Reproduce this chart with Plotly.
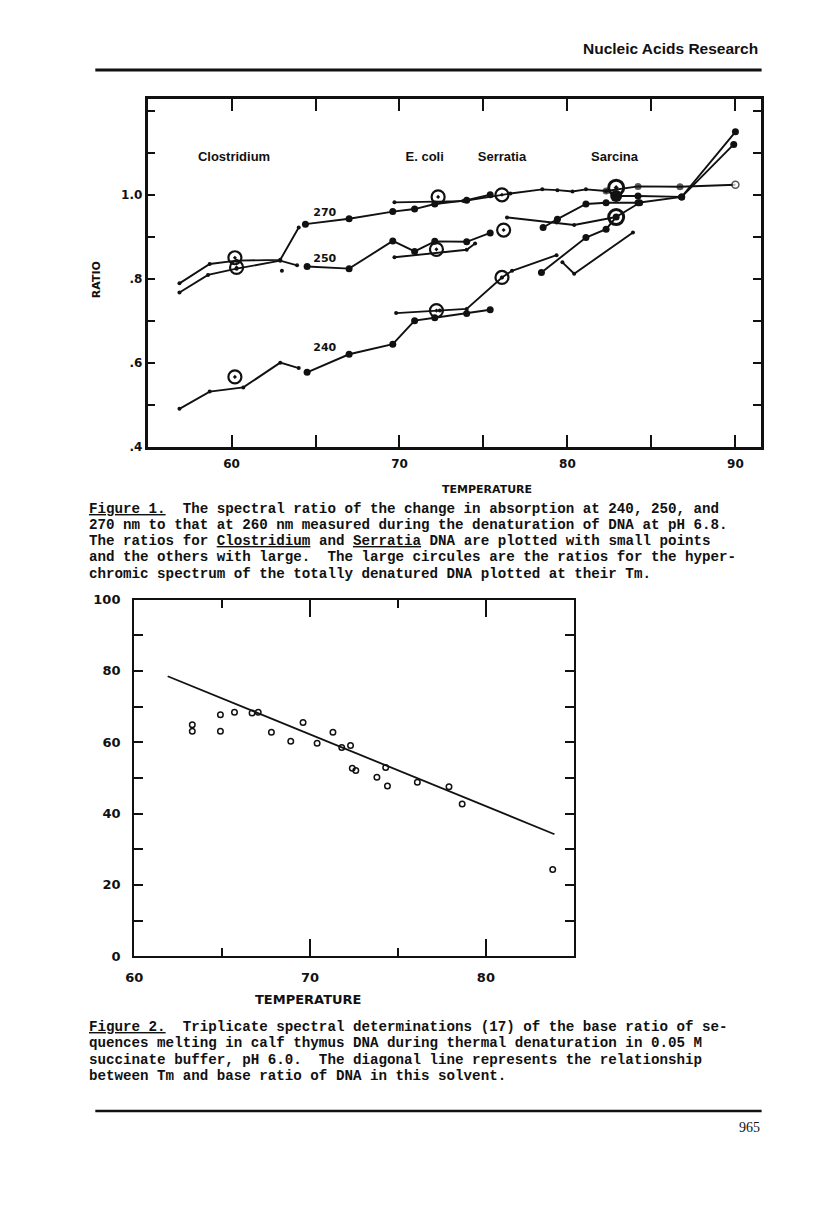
import plotly.graph_objects as go

# ---------------- Figure 1 data (temperature, ratio) ----------------
clo270_T = [56.9, 58.7, 60.3, 62.9, 64.0]
clo270_R = [0.790, 0.836, 0.844, 0.846, 0.923]
clo250_T = [56.9, 58.6, 60.3, 62.9, 63.9]
clo250_R = [0.768, 0.810, 0.825, 0.844, 0.833]
clo250x_T = [63.0]
clo250x_R = [0.820]
clo240_T = [56.9, 58.7, 60.7, 62.9, 64.0]
clo240_R = [0.491, 0.532, 0.542, 0.601, 0.588]

eco270_T = [64.4, 67.0, 69.6, 70.9, 72.1, 74.0, 75.4]
eco270_R = [0.931, 0.944, 0.961, 0.967, 0.979, 0.988, 1.001]
eco250_T = [64.5, 67.0, 69.6, 70.9, 72.1, 74.0, 75.4]
eco250_R = [0.830, 0.825, 0.891, 0.866, 0.890, 0.889, 0.910]
eco240_T = [64.5, 67.0, 69.6, 70.9, 72.1, 74.0, 75.4]
eco240_R = [0.578, 0.621, 0.645, 0.701, 0.708, 0.718, 0.727]

serr270_T = [69.7, 73.8, 76.6, 78.5, 79.4, 80.3, 81.1, 82.3]
serr270_R = [0.983, 0.986, 1.004, 1.014, 1.012, 1.009, 1.014, 1.010]
serr250_T = [69.7, 74.0, 74.5, None, 76.4, 79.35, 80.4, 82.9]
serr250_R = [0.852, 0.870, 0.885, None, 0.947, 0.935, 0.929, 0.948]
serr240_T = [69.8, 72.4, 74.0, 76.1, 76.7, 79.35, None, 79.7, 80.4, 83.9]
serr240_R = [0.719, 0.725, 0.729, 0.804, 0.820, 0.857, None, 0.840, 0.813, 0.911]

sar270_T = [82.3, 84.2, 86.7, 90.0]
sar270_R = [1.010, 1.021, 1.020, 1.025]
sarmid_T = [82.9, 84.2, 86.8, 90.0]
sarmid_R = [0.998, 0.998, 0.996, 1.151]
sar250_T = [78.55, 79.4, 81.1, 82.3, 84.2, 86.8, 89.9]
sar250_R = [0.923, 0.943, 0.979, 0.982, 0.982, 0.996, 1.121]
sar240_T = [78.45, 81.1, 82.3, 82.9, 84.3]
sar240_R = [0.816, 0.899, 0.919, 0.948, 0.982]

# Tm circles (hyperchromic spectrum of denatured DNA)
tm_T = [60.2, 60.3, 60.2, 72.3, 72.2, 72.2, 76.1, 76.2, 76.1]
tm_R = [0.851, 0.828, 0.567, 0.996, 0.871, 0.725, 1.001, 0.917, 0.804]
sar_tm_T = [82.9, 82.9]
sar_tm_R = [1.018, 0.948]

organisms = ["Clostridium", "E. coli", "Serratia", "Sarcina"]
organism_T = [60.15, 71.5, 76.1, 82.8]
organism_R = [1.089, 1.089, 1.089, 1.089]
wavelengths = ["270", "250", "240"]
wavelength_T = [65.55, 65.55, 65.55]
wavelength_R = [0.956, 0.848, 0.636]

# ---------------- Figure 2 data ----------------
f2_T = [63.3, 63.3, 64.9, 64.9, 65.7, 66.7, 67.05, 67.8, 68.9, 69.6, 70.4, 71.3,
        71.8, 72.3, 72.4, 72.6, 73.8, 74.3, 74.4, 76.1, 77.9, 78.65, 83.8]
f2_Y = [64.9, 63.1, 67.7, 63.1, 68.4, 68.2, 68.4, 62.8, 60.3, 65.5, 59.7, 62.8,
        58.5, 59.1, 52.7, 52.1, 50.2, 52.9, 47.7, 48.8, 47.5, 42.7, 24.3]
f2_line_T = [61.9, 83.9]
f2_line_Y = [78.5, 34.2]

W, H = 816, 1208
# page-pixel -> paper coordinates (with a small correction for the capture)
def pxx(x): return ((x - 8.6) / 0.990) / W
def pxy(y): return 1 - ((y - 5.9) / 0.9885) / H

K = "#111111"
fig = go.Figure()

def line_trace(T, R, size, symbol="circle", ax="x", ay="y"):
    fig.add_trace(go.Scatter(x=T, y=R, mode="lines+markers", xaxis=ax, yaxis=ay,
                             line=dict(color=K, width=1.9),
                             marker=dict(color=K, size=size, symbol=symbol),
                             showlegend=False, hoverinfo="skip"))

small, large = 4, 7
for T, R in [(clo270_T, clo270_R), (clo250_T, clo250_R), (clo240_T, clo240_R)]:
    line_trace(T, R, small)
fig.add_trace(go.Scatter(x=clo250x_T, y=clo250x_R, mode="markers",
                         marker=dict(color=K, size=small), showlegend=False))
for T, R in [(eco270_T, eco270_R), (eco250_T, eco250_R), (eco240_T, eco240_R)]:
    line_trace(T, R, large)
for T, R in [(serr270_T, serr270_R), (serr250_T, serr250_R), (serr240_T, serr240_R)]:
    line_trace(T, R, small)
for T, R in [(sarmid_T, sarmid_R), (sar250_T, sar250_R), (sar240_T, sar240_R)]:
    line_trace(T, R, large)
fig.add_trace(go.Scatter(x=sar270_T, y=sar270_R, mode="lines+markers",
                         line=dict(color=K, width=1.9),
                         marker=dict(color=[K, K, K, "white"], size=[large, large, large, 7],
                                     line=dict(color=K, width=[0, 0, 0, 1.5])),
                         showlegend=False))
fig.add_trace(go.Scatter(x=tm_T, y=tm_R, mode="markers",
                         marker=dict(symbol="circle-open-dot", size=13, color=K,
                                     line=dict(color=K, width=2.2)),
                         showlegend=False))
fig.add_trace(go.Scatter(x=sar_tm_T, y=sar_tm_R, mode="markers",
                         marker=dict(symbol="circle-open-dot", size=15, color=K,
                                     line=dict(color=K, width=3)),
                         showlegend=False))
fig.add_trace(go.Scatter(x=[sarmid_T[0]], y=[sarmid_R[0]], mode="markers",
                         marker=dict(symbol="circle", size=12, color=K),
                         showlegend=False))
fig.add_trace(go.Scatter(x=organism_T, y=organism_R, mode="text", text=organisms,
                         textfont=dict(family="Liberation Sans", size=13, color=K, weight="bold"),
                         showlegend=False))
fig.add_trace(go.Scatter(x=wavelength_T, y=wavelength_R, mode="text", text=wavelengths,
                         textfont=dict(family="DejaVu Sans", size=11, color=K, weight="bold"),
                         showlegend=False))

# Figure 2 traces
fig.add_trace(go.Scatter(x=f2_line_T, y=f2_line_Y, mode="lines", xaxis="x2", yaxis="y2",
                         line=dict(color=K, width=1.8), showlegend=False))
fig.add_trace(go.Scatter(x=f2_T, y=f2_Y, mode="markers", xaxis="x2", yaxis="y2",
                         marker=dict(symbol="circle-open", size=5.5, color=K,
                                     line=dict(color=K, width=1.5)),
                         showlegend=False))

tickfont = dict(family="DejaVu Sans", size=12, color=K, weight="bold")
tickfont2 = dict(family="DejaVu Sans", size=13, color=K, weight="bold")

fig.update_layout(
    width=W, height=H, autosize=False,
    margin=dict(l=0, r=0, t=0, b=0),
    paper_bgcolor="white", plot_bgcolor="white",
    font=dict(family="DejaVu Sans", color=K),
    xaxis=dict(domain=[pxx(147.3), pxx(761)], range=[55, 91.5], anchor="y",
               showline=True, mirror="ticks", linewidth=2.6, linecolor=K,
               ticks="inside", ticklen=12, tickwidth=2, tickcolor=K,
               tickvals=[60, 65, 70, 75, 80, 85, 90],
               ticktext=["60", "", "70", "", "80", "", "90"],
               tickfont=tickfont, ticklabelstandoff=4,
               showgrid=False, zeroline=False),
    yaxis=dict(domain=[pxy(446.3), pxy(98.1)], range=[0.4, 1.229], anchor="x",
               showline=True, mirror="ticks", linewidth=2.6, linecolor=K,
               ticks="inside", ticklen=8, tickwidth=2, tickcolor=K,
               tickvals=[0.4, 0.5, 0.6, 0.7, 0.8, 0.9, 1.0, 1.1, 1.2],
               ticktext=[".4", "", ".6", "", ".8", "", "1.0", "", ""],
               tickfont=tickfont, ticklabelstandoff=0,
               showgrid=False, zeroline=False),
    xaxis2=dict(domain=[pxx(134), pxx(574)], range=[60, 85], anchor="y2",
                showline=True, mirror="ticks", linewidth=2.4, linecolor=K,
                ticks="inside", ticklen=17, tickwidth=2, tickcolor=K,
                tick0=60, dtick=10, tickfont=tickfont2, ticklabelstandoff=8,
                minor=dict(dtick=5, tick0=60, ticks="inside", ticklen=8, tickwidth=2, tickcolor=K),
                showgrid=False, zeroline=False),
    yaxis2=dict(domain=[pxy(956), pxy(599)], range=[0, 100], anchor="x2",
                showline=True, mirror="ticks", linewidth=2.4, linecolor=K,
                ticks="inside", ticklen=9, tickwidth=2, tickcolor=K,
                tickvals=[0, 10, 20, 30, 40, 50, 60, 70, 80, 90, 100],
                ticktext=["0", "", "20", "", "40", "", "60", "", "80", "", "100"],
                tickfont=tickfont2, ticklabelstandoff=9,
                showgrid=False, zeroline=False),
)

ann = []
def text(x, y, s, size, family="DejaVu Sans", weight="bold", xanchor="center", angle=0):
    ann.append(dict(x=pxx(x), y=pxy(y), xref="paper", yref="paper", text=s, showarrow=False,
                    xanchor=xanchor, yanchor="middle", textangle=angle,
                    font=dict(family=family, size=size, color=K, weight=weight)))

text(760, 47, "Nucleic Acids Research", 15.5, family="Liberation Sans", xanchor="right")
text(487, 489, "TEMPERATURE", 11)
text(97, 279, "RATIO", 11, angle=-90)
text(308, 999, "TEMPERATURE", 13)

mono = "Liberation Mono"
cap1 = [
    "<u>Figure 1.</u>  The spectral ratio of the change in absorption at 240, 250, and",
    "270 nm to that at 260 nm measured during the denaturation of DNA at pH 6.8.",
    "The ratios for <u>Clostridium</u> and <u>Serratia</u> DNA are plotted with small points",
    "and the others with large.  The large circules are the ratios for the hyper-",
    "chromic spectrum of the totally denatured DNA plotted at their Tm.",
]
cap2 = [
    "<u>Figure 2.</u>  Triplicate spectral determinations (17) of the base ratio of se-",
    "quences melting in calf thymus DNA during thermal denaturation in 0.05 M",
    "succinate buffer, pH 6.0.  The diagonal line represents the relationship",
    "between Tm and base ratio of DNA in this solvent.",
]
for i, s in enumerate(cap1):
    text(87, 508 + 16.3 * i, s.replace("  ", " \u00a0"), 14.2, family=mono, weight="bold", xanchor="left")
for i, s in enumerate(cap2):
    text(87, 1027 + 16.3 * i, s.replace("  ", " \u00a0"), 14.2, family=mono, weight="bold", xanchor="left")

text(762, 1127, "965", 14, family="Liberation Serif", weight="normal", xanchor="right")

fig.update_layout(annotations=ann, shapes=[
    dict(type="line", xref="paper", yref="paper", x0=pxx(95), x1=pxx(762), y0=pxy(69), y1=pxy(69),
         line=dict(color=K, width=3)),
    dict(type="line", xref="paper", yref="paper", x0=pxx(95), x1=pxx(762), y0=pxy(1111), y1=pxy(1111),
         line=dict(color=K, width=2.5)),
])

fig.write_html("out.html", config={"displayModeBar": False},
               post_script="document.body.style.margin='0';document.body.style.overflow='hidden';")
